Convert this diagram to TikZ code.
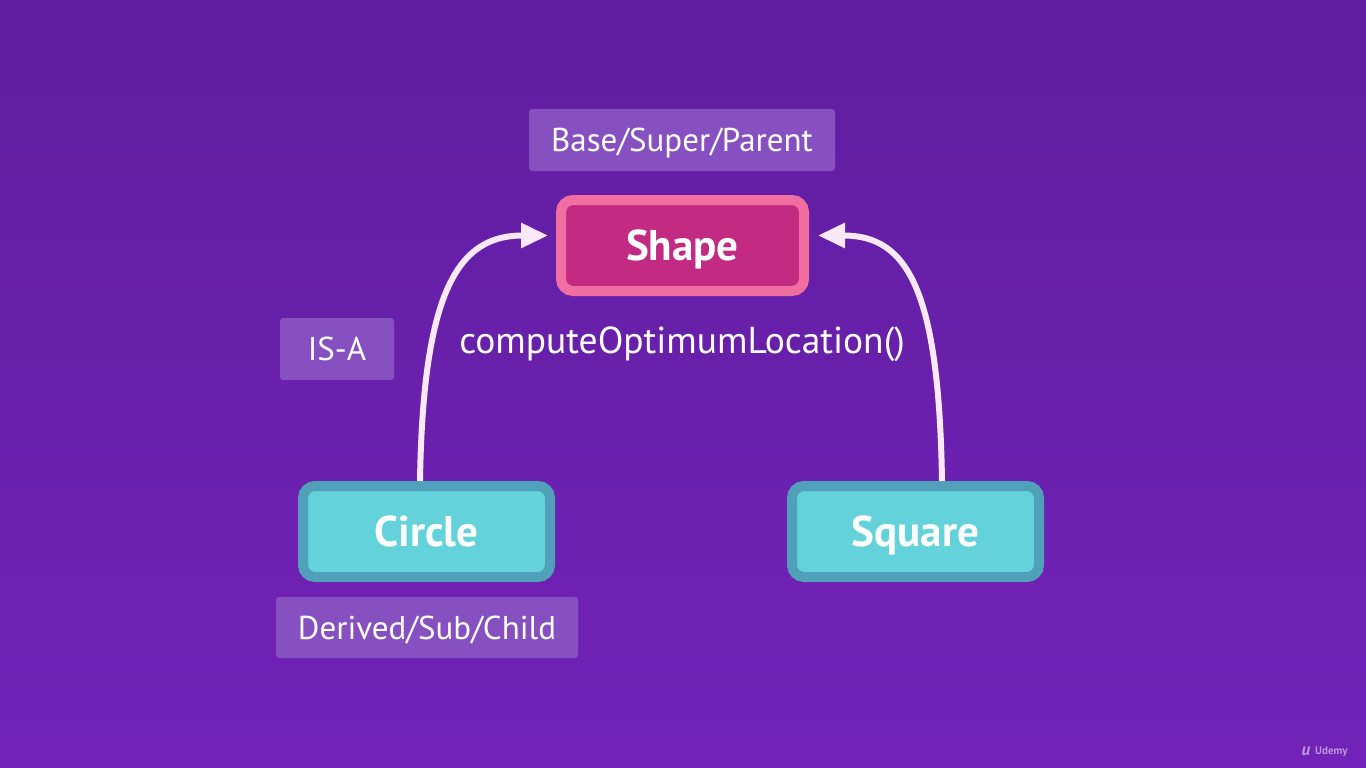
\documentclass[tikz,border=0pt]{standalone}
\usepackage{fontspec}
\setmainfont{PT Sans}
\usetikzlibrary{arrows.meta}
\definecolor{bgtop}{RGB}{96,30,160}
\definecolor{bgbot}{RGB}{114,34,184}
\definecolor{tagfill}{RGB}{134,80,192}
\definecolor{pinkborder}{RGB}{240,110,160}
\definecolor{pinkfill}{RGB}{195,42,130}
\definecolor{tealborder}{RGB}{80,160,185}
\definecolor{tealfill}{RGB}{100,210,218}
\definecolor{arrowcol}{RGB}{248,232,248}
\definecolor{wmark}{RGB}{190,150,220}
\tikzset{
  tagbox/.style={fill=tagfill, rounded corners=3pt, text=white, inner sep=0pt,
    text height=23pt, text depth=0pt, font=\fontsize{33}{38}\selectfont},
  classbox/.style={line width=10pt, rounded corners=12pt, text=white, inner sep=0pt,
    minimum width=247pt, minimum height=91pt, text height=30pt, text depth=0pt,
    font=\fontsize{43}{48}\selectfont\bfseries},
  parentbox/.style={classbox, draw=pinkborder, fill=pinkfill, minimum width=243pt},
  childbox/.style={classbox, draw=tealborder, fill=tealfill},
  isarrow/.style={draw=arrowcol, line width=6pt, -{Triangle[length=27pt,width=24pt]}},
}
\begin{document}
\begin{tikzpicture}[x=1pt,y=-1pt]
\shade[top color=bgtop, bottom color=bgbot] (0,0) rectangle (1366,768);
\useasboundingbox (0,0) rectangle (1366,768);

\node[tagbox, minimum width=306pt, minimum height=62pt] (base) at (682,140) {Base/Super/Parent};
\node[parentbox] (shape) at (682.5,245.5) {Shape};
\node[text=white, inner sep=0pt, text height=26pt, text depth=0pt, font=\fontsize{37.5}{42}\selectfont] (method) at (682,340) {computeOptimumLocation()};
\node[tagbox, minimum width=114pt, minimum height=62pt] (isa) at (337,349) {IS-A};
\node[childbox] (circle) at (426.5,531.5) {Circle};
\node[childbox] (square) at (915.5,531.5) {Square};
\node[tagbox, minimum width=302pt, minimum height=61pt] (derived) at (427,627.5) {Derived/Sub/Child};

\draw[isarrow] ([xshift=-6.5pt]circle.north) .. controls +(3,-190) and +(-90,0) .. ([xshift=-8pt,yshift=10pt]shape.west);
\draw[isarrow] ([xshift=26.5pt]square.north) .. controls +(-3,-190) and +(90,0) .. ([xshift=9pt,yshift=10pt]shape.east);

\node[text=wmark, font=\fontsize{17}{18}\selectfont\bfseries\itshape, inner sep=0pt] (ulogo) at (1306,751) {u};
\node[text=wmark, font=\fontsize{11}{12}\selectfont\bfseries, anchor=west, inner sep=0pt] (udemy) at (1315,752) {Udemy};
\end{tikzpicture}
\end{document}
